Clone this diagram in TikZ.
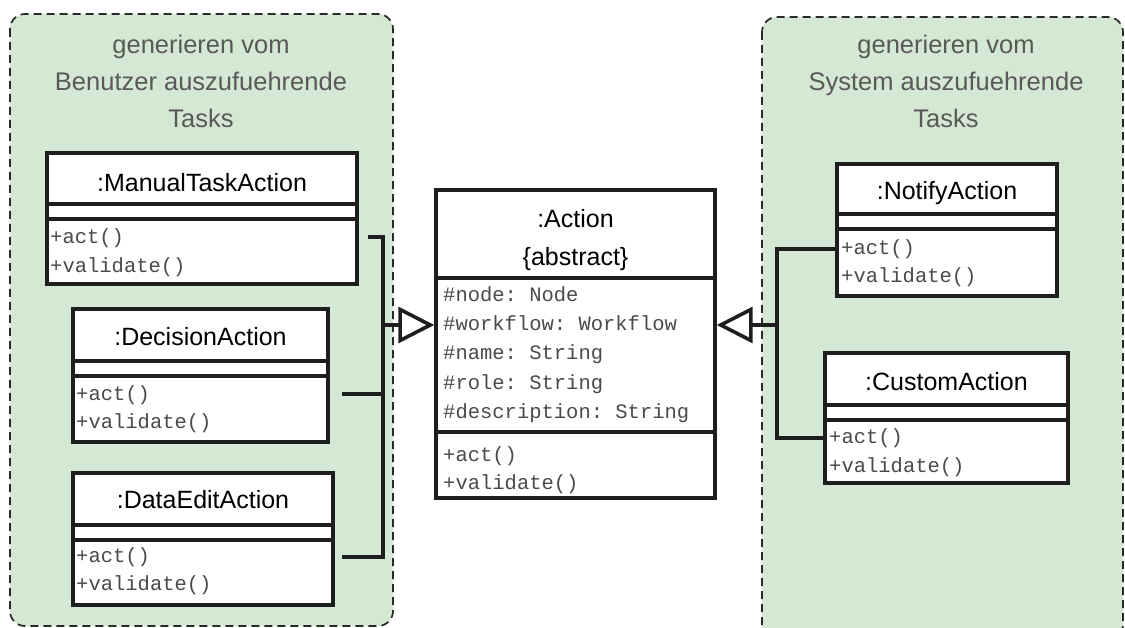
\documentclass[tikz,border=0pt]{standalone}
\usepackage{fontspec}
\setmainfont{Liberation Sans}
\setmonofont{Liberation Mono}
\usetikzlibrary{arrows.meta,calc}

\definecolor{groupfill}{HTML}{D5E8D4}
\definecolor{groupline}{HTML}{2A2A2A}
\definecolor{titlegray}{HTML}{595959}
\definecolor{linedark}{HTML}{1E1E1E}
\definecolor{codegray}{HTML}{4A4A4A}

\tikzset{
  group/.style={draw=groupline, fill=groupfill, line width=1.7pt,
    dash pattern=on 8pt off 5pt, rounded corners=15pt},
  grouptitle/.style={text=titlegray, align=center,
    font=\fontsize{25.5}{37}\selectfont},
  classbox/.style={draw=linedark, fill=white, line width=3.4pt,
    rectangle, inner sep=0pt},
  divider/.style={draw=linedark, line width=3.4pt},
  classname/.style={font=\fontsize{25}{38}\selectfont, align=center,
    text=black, inner sep=0pt},
  member/.style={font=\ttfamily\fontsize{20.5}{24}\selectfont, text=codegray,
    anchor=west, inner sep=0pt, text height=0.75em, text depth=0.25em},
  conn/.style={draw=linedark, line width=3.6pt},
  inherit/.style={conn, -{Triangle[open, length=36pt, width=36pt, line width=3.6pt]}},
}

\begin{document}
\begin{tikzpicture}[x=1pt, y=-1pt]
\useasboundingbox (0,0) rectangle (1125,628);

% --- task groups ---
\path[group] (10,14) rectangle (393,626);
\path[group] (762,17) rectangle (1123,640);
\node[grouptitle] (titleL) at (201,81) {generieren vom\\Benutzer auszufuehrende\\Tasks};
\node[grouptitle] (titleR) at (946,81) {generieren vom\\System auszufuehrende\\Tasks};

% --- user task classes ---
\node[classbox, minimum width=310pt, minimum height=131pt] (manual) at (202,218.5) {};
\draw[divider] (manual.west |- 0,204) -- (manual.east |- 0,204);
\draw[divider] (manual.west |- 0,219) -- (manual.east |- 0,219);
\node[classname] (manualname) at (202,183) {:ManualTaskAction};
\node[member] (manualact) at (50,241) {+act()};
\node[member] (manualval) at (50,270) {+validate()};

\node[classbox, minimum width=255pt, minimum height=133pt] (decision) at (200.5,375.5) {};
\draw[divider] (decision.west |- 0,361) -- (decision.east |- 0,361);
\draw[divider] (decision.west |- 0,376) -- (decision.east |- 0,376);
\node[classname] (decisionname) at (200.5,337) {:DecisionAction};
\node[member] (decisionact) at (76,398) {+act()};
\node[member] (decisionval) at (76,426) {+validate()};

\node[classbox, minimum width=260pt, minimum height=132pt] (dataedit) at (203,539) {};
\draw[divider] (dataedit.west |- 0,525) -- (dataedit.east |- 0,525);
\draw[divider] (dataedit.west |- 0,540) -- (dataedit.east |- 0,540);
\node[classname] (dataeditname) at (203,500) {:DataEditAction};
\node[member] (dataeditact) at (76,560) {+act()};
\node[member] (dataeditval) at (76,588) {+validate()};

% --- abstract base class ---
\node[classbox, minimum width=279pt, minimum height=308pt] (action) at (575.5,344) {};
\draw[divider] (action.west |- 0,278) -- (action.east |- 0,278);
\draw[divider] (action.west |- 0,432) -- (action.east |- 0,432);
\node[classname] (actionname) at (575.5,240) {:Action\\\{abstract\}};
\node[member] (attr1) at (443,299) {\#node: Node};
\node[member] (attr2) at (443,328) {\#workflow: Workflow};
\node[member] (attr3) at (443,357) {\#name: String};
\node[member] (attr4) at (443,387) {\#role: String};
\node[member] (attr5) at (443,416) {\#description: String};
\node[member] (actionact) at (443,459) {+act()};
\node[member] (actionval) at (443,487) {+validate()};

% --- system task classes ---
\node[classbox, minimum width=220pt, minimum height=132pt] (notify) at (947,230) {};
\draw[divider] (notify.west |- 0,214) -- (notify.east |- 0,214);
\draw[divider] (notify.west |- 0,229) -- (notify.east |- 0,229);
\node[classname] (notifyname) at (947,193) {:NotifyAction};
\node[member] (notifyact) at (841,252) {+act()};
\node[member] (notifyval) at (841,280) {+validate()};

\node[classbox, minimum width=243pt, minimum height=130pt] (custom) at (946.5,418) {};
\draw[divider] (custom.west |- 0,405) -- (custom.east |- 0,405);
\draw[divider] (custom.west |- 0,420) -- (custom.east |- 0,420);
\node[classname] (customname) at (946.5,382) {:CustomAction};
\node[member] (customact) at (829,441) {+act()};
\node[member] (customval) at (829,470) {+validate()};

% --- generalisation connectors ---
\coordinate (m1) at (368,237);
\coordinate (m2) at (342,394);
\coordinate (m3) at (342,557);
\coordinate (jl) at (383,325);
\draw[conn] (m1) -| (jl |- m3) -- (m3);
\draw[conn] (m2) -- (jl |- m2);
\draw[inherit] (jl) -- (action.west |- jl);

\coordinate (jr) at (777,325);
\draw[conn] (notify.west |- 0,249) -| (jr |- 0,438) -- (custom.west |- 0,438);
\draw[inherit] (jr) -- (action.east |- jr);
\end{tikzpicture}
\end{document}
